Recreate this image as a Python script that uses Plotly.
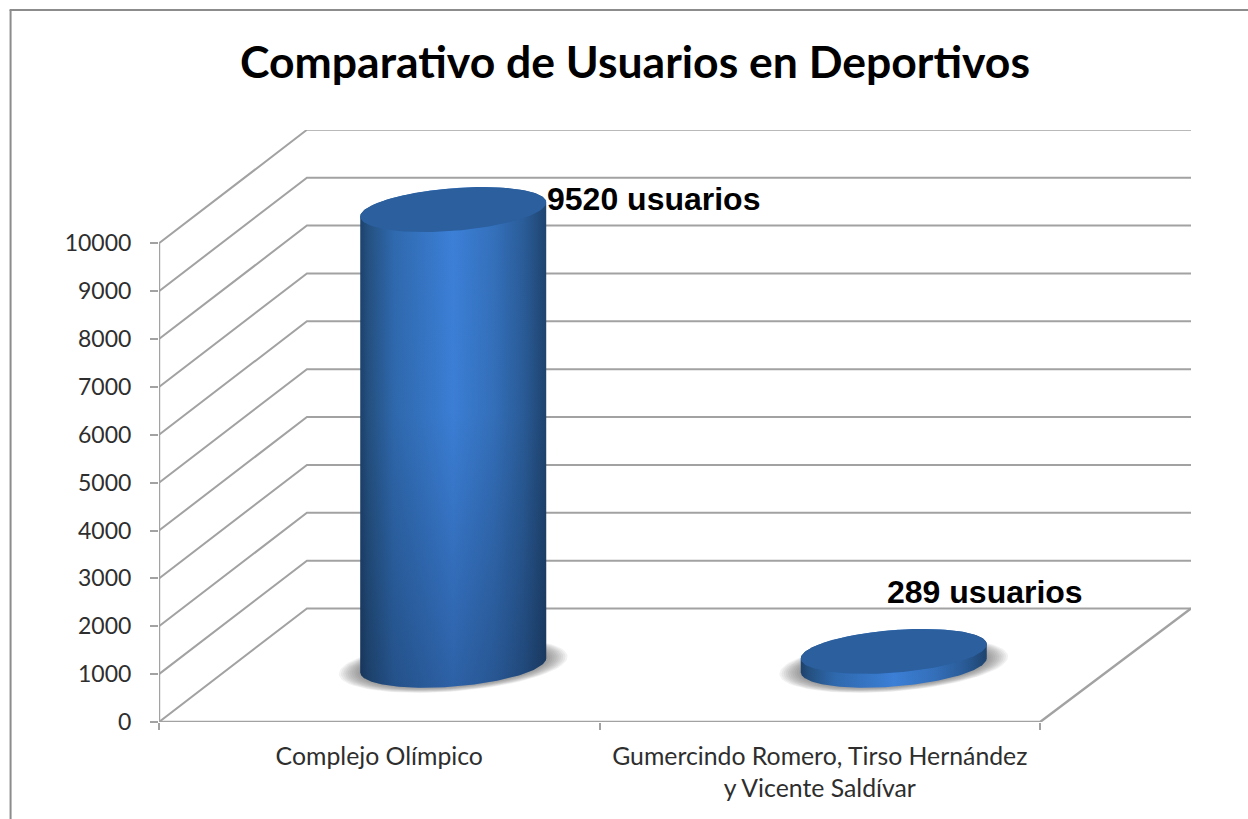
import numpy as np
import plotly.graph_objects as go

# ---- data ----
TITLE = "Comparativo de Usuarios en Deportivos"
categories = ["Complejo Olímpico", "Gumercindo Romero, Tirso Hernández<br>y Vicente Saldívar"]
values = [9520, 289]
value_labels = ["9520 usuarios", "289 usuarios"]
y_ticks = [0, 1000, 2000, 3000, 4000, 5000, 6000, 7000, 8000, 9000, 10000]

# ---- layout constants (pixels of the page) ----
W, H = 1248, 819
LEFT, RIGHT, TOP, BOTTOM = 158.5, 1191, 130, 722
PX_X = 440.75          # px per category
PX_Y = 0.04787         # px per value unit
GREY = "#a2a2a2"

XMAX = (RIGHT - LEFT) / PX_X
YMAX = (BOTTOM - TOP) / PX_Y
DX = 148 / PX_X        # depth vector of the floor
DY = 113.5 / PX_Y
RAD_X = 88.3 / PX_X    # cylinder radius along width
RAD_D = 0.198          # cylinder radius along depth

fig = go.Figure()

# walls and gridlines
gx, gy = [], []
for v in y_ticks:
    gx += [0, DX, XMAX, None]
    gy += [v, v + DY, v + DY, None]
fig.add_trace(go.Scatter(x=gx, y=gy, mode="lines", line=dict(color=GREY, width=2),
                         hoverinfo="skip", showlegend=False, cliponaxis=False))
fig.add_trace(go.Scatter(x=[0, 0, None, 0, 2, XMAX], y=[y_ticks[-1], 0, None, 0, 0, DY],
                         mode="lines", line=dict(color=GREY, width=2.4),
                         hoverinfo="skip", showlegend=False, cliponaxis=False))


def ellipse(cx, cy, t, scale=1.0):
    x = cx + scale * (RAD_X * np.cos(t) + RAD_D * DX * np.sin(t))
    y = cy + scale * RAD_D * DY * np.sin(t)
    return x, y


BODY = [[0.0, "#1d416c"], [0.04, "#24507f"], [0.18, "#2f69ae"], [0.5, "#3c80d8"],
        [0.72, "#3470bb"], [0.88, "#2a5c98"], [1.0, "#1f446f"]]
CAP = "#2b5f9e"
T0 = np.arctan2(RAD_D * DX, RAD_X)
vmax = max(values)

for i, (cat, val) in enumerate(zip(categories, values)):
    cx = i + 0.5 + DX / 2
    base = DY / 2
    top = base + val

    # soft shadow
    for s in np.linspace(1.23, 1.02, 10):
        t = np.linspace(0, 2 * np.pi, 90)
        sx, sy = ellipse(cx, base, t, s)
        fig.add_trace(go.Scatter(x=sx, y=sy, mode="lines", fill="toself", line=dict(width=0),
                                 fillcolor="rgba(80,80,80,0.075)",
                                 hoverinfo="skip", showlegend=False))

    # body outline: lower arc of the base, then the upper arc of the top face
    bx, by = ellipse(cx, base, np.linspace(np.pi + T0, 2 * np.pi + T0, 120))
    tx, ty = ellipse(cx, top, np.linspace(T0, np.pi + T0, 120))
    px = np.r_[bx, tx]
    py = np.r_[by, ty]
    x0, x1 = px.min(), px.max()
    fig.add_trace(go.Scatter(x=px, y=py, mode="lines", fill="toself", line=dict(width=0),
                             fillgradient=dict(type="horizontal", colorscale=BODY, start=x0, stop=x1),
                             hoverinfo="skip", name=cat.replace("<br>", " "), showlegend=False))
    # darkening towards the foot of a tall cylinder
    a = 0.30 * val / vmax
    fig.add_trace(go.Scatter(x=px, y=py, mode="lines", fill="toself", line=dict(width=0),
                             fillgradient=dict(type="vertical", start=py.min(), stop=py.max(),
                                               colorscale=[[0, f"rgba(10,25,50,{a:.3f})"],
                                                           [0.55, "rgba(10,25,50,0.02)"],
                                                           [1, "rgba(10,25,50,0)"]]),
                             hoverinfo="skip", showlegend=False))
    # top face
    t = np.linspace(0, 2 * np.pi, 120)
    cxs, cys = ellipse(cx, top, t)
    fig.add_trace(go.Scatter(x=cxs, y=cys, mode="lines", fill="toself", line=dict(width=0),
                             fillcolor=CAP, hoverinfo="skip", showlegend=False))

# value labels, placed relative to the top face of each cylinder
label_shift = [(200, 11), (91, 59)]
for i, (lab, val, (sx, sy)) in enumerate(zip(value_labels, values, label_shift)):
    fig.add_annotation(x=i + 0.5 + DX / 2, y=DY / 2 + val, xref="x", yref="y", text=lab,
                       xshift=sx, yshift=sy, showarrow=False, xanchor="center", yanchor="middle",
                       font=dict(family="Liberation Sans", size=32, color="#000000",
                                 weight="bold"))

# outer frame
fx = lambda p: (p - LEFT) / (RIGHT - LEFT)
fy = lambda p: (BOTTOM - p) / (BOTTOM - TOP)
frame = dict(type="line", xref="paper", yref="paper", line=dict(color="#8c8c8c", width=2))
fig.add_shape(x0=fx(10), x1=fx(10), y0=fy(10), y1=fy(825), **frame)
fig.add_shape(x0=fx(9), x1=fx(1255), y0=fy(10), y1=fy(10), **frame)

fig.update_layout(
    width=W, height=H,
    margin=dict(l=LEFT, r=W - RIGHT, t=TOP, b=H - BOTTOM, pad=0),
    paper_bgcolor="white", plot_bgcolor="white",
    showlegend=False,
    title=dict(text=TITLE, x=635 / W, xanchor="center", y=1 - 62 / H, yanchor="middle",
               font=dict(family="Lato", size=44.5, color="#000000", weight="bold")),
    xaxis=dict(range=[0, XMAX], showgrid=False, zeroline=False, showline=False,
               tickmode="array", tickvals=[0.5, 1.5], ticktext=categories,
               ticks="", ticklabelstandoff=17,
               tickfont=dict(family="Lato", size=24.8, color="#2e2e2e"),
               minor=dict(tickmode="array", tickvals=[0, 1, 2], ticks="outside",
                          ticklen=7, tickwidth=2, tickcolor=GREY)),
    yaxis=dict(range=[0, YMAX], showgrid=False, zeroline=False, showline=False,
               tickmode="array", tickvals=y_ticks, ticktext=[str(v) for v in y_ticks],
               ticks="outside", ticklen=8, tickwidth=2, tickcolor=GREY,
               ticklabelstandoff=14,
               tickfont=dict(family="Lato", size=23, color="#2e2e2e")),
)

fig.write_html("out.html", post_script="document.body.style.margin='0';",
               config=dict(displayModeBar=False))
